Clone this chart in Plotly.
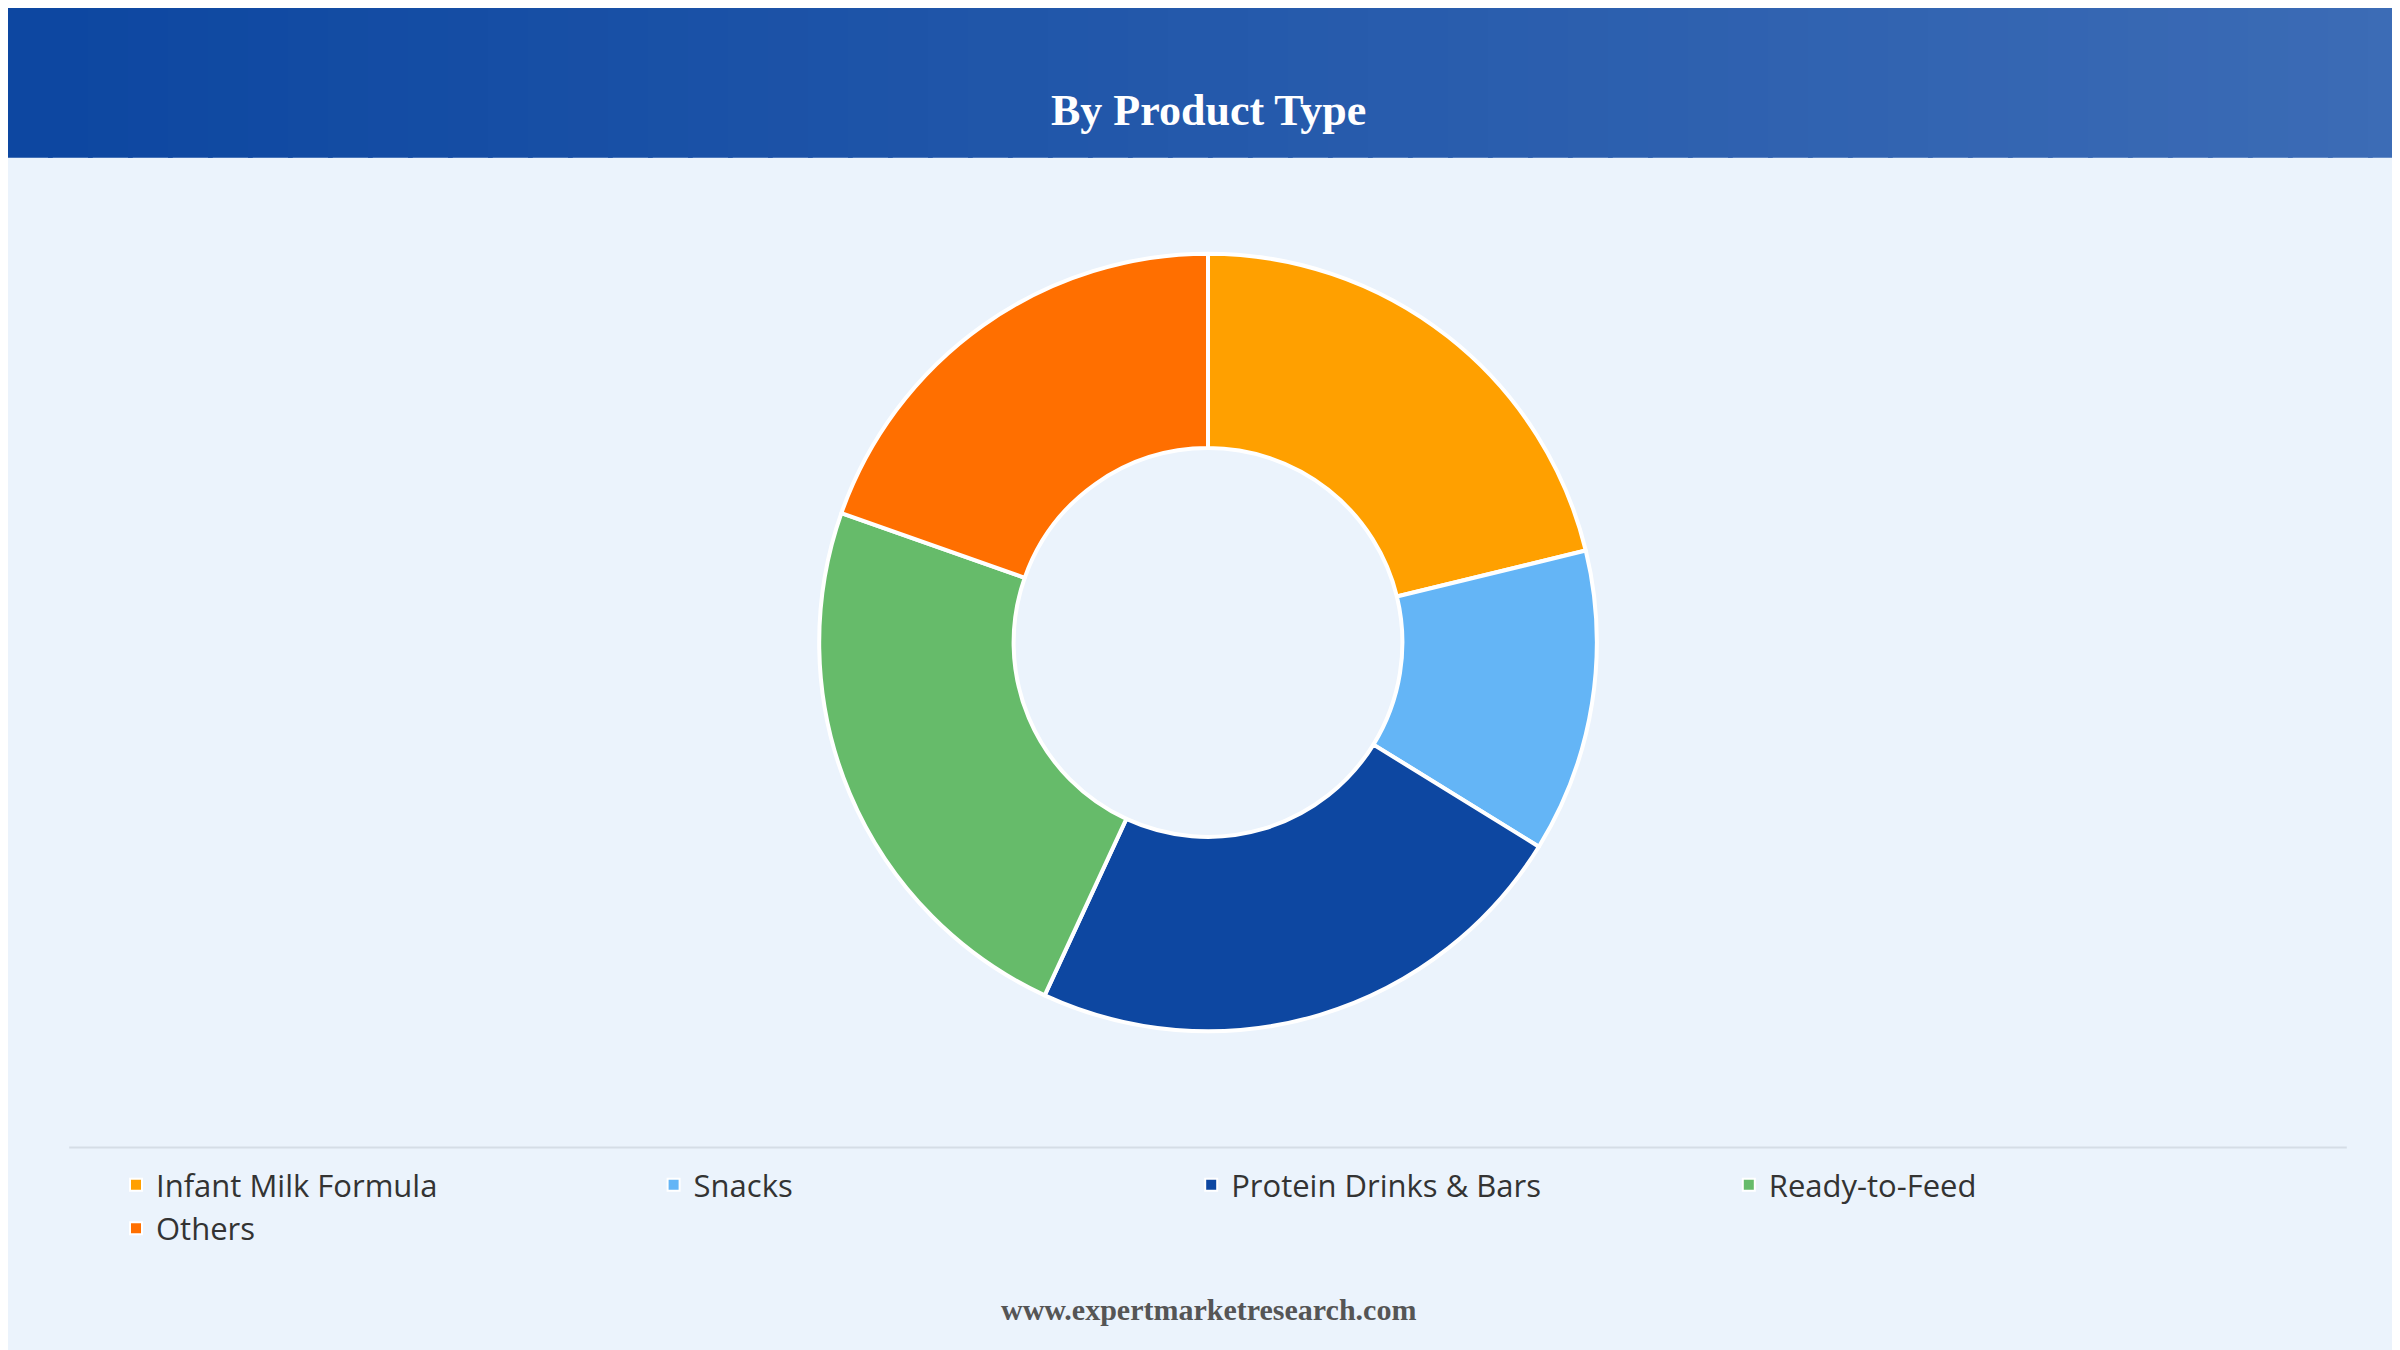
import plotly.graph_objects as go

categories = ["Infant Milk Formula", "Snacks", "Protein Drinks & Bars", "Ready-to-Feed", "Others"]
values = [21.2, 12.6, 23.1, 23.5, 19.6]
colors = ["#ffa000", "#64b5f6", "#0d47a1", "#66bb6a", "#ff6f00"]

fig = go.Figure(go.Pie(
    labels=categories, values=values, hole=0.5, sort=False, direction="clockwise",
    rotation=0, marker=dict(colors=colors, line=dict(color="white", width=4)),
    textinfo="none", hoverinfo="label+percent",
    domain=dict(x=[0.338, 0.662], y=[0.242, 0.818]),
))

shapes = []
n = 60
c0 = (13, 71, 161); c1 = (60, 108, 182)
for i in range(n):
    t = i / (n - 1)
    c = tuple(int(c0[k] + (c1[k] - c0[k]) * t) for k in range(3))
    shapes.append(dict(type="rect", xref="paper", yref="paper", x0=i / n, x1=(i + 1) / n + 0.002,
                       y0=0.889, y1=1, fillcolor="rgb(%d,%d,%d)" % c, line=dict(width=0), layer="below"))
shapes.append(dict(type="line", xref="paper", yref="paper", x0=0.0255, x1=0.9745, y0=0.156, y1=0.156,
                   line=dict(color="#d5dde6", width=2)))

fig.update_layout(
    width=2400, height=1350, margin=dict(l=0, r=0, t=0, b=0),
    paper_bgcolor="#ebf3fc", plot_bgcolor="#ebf3fc", shapes=shapes,
    showlegend=True,
    legend=dict(orientation="h", x=0.045, y=0.148, xanchor="left", yanchor="top",
                entrywidth=0.224, entrywidthmode="fraction",
                font=dict(family="Open Sans", size=31, color="#333333"), itemsizing="constant",
                tracegroupgap=0),
    annotations=[
        dict(text="<b>By Product Type</b>", xref="paper", yref="paper", x=0.5, y=0.944,
             showarrow=False, font=dict(family="Liberation Serif", size=44, color="white")),
        dict(text="<b>www.expertmarketresearch.com</b>", xref="paper", yref="paper", x=0.5, y=0.022,
             showarrow=False, font=dict(family="Liberation Serif", size=30, color="#555555")),
    ],
)
fig.write_html("out.html")
